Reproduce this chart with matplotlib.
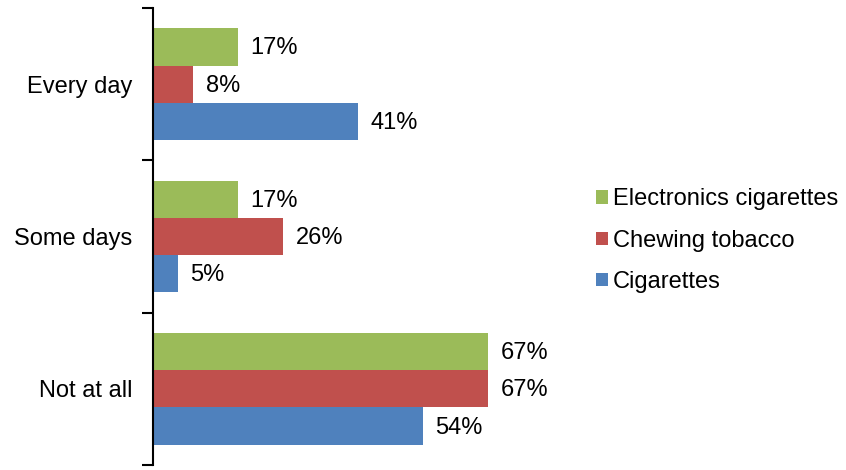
import matplotlib.pyplot as plt
import numpy as np

# Data
categories = ['Every day', 'Some days', 'Not at all']
series_names = ['Electronics cigarettes', 'Chewing tobacco', 'Cigarettes']
ecig = [17, 17, 67]
chewing = [8, 26, 67]
cigarettes = [41, 5, 54]
colors = ['#9BBB59', '#C0504D', '#4F81BD']

plt.rcParams['font.family'] = ['Liberation Sans', 'DejaVu Sans']

fig = plt.figure(figsize=(8.46, 4.70), dpi=100)
ax = fig.add_axes([153 / 846, 5 / 470, 400 / 846, 457 / 470])

# Categories go top to bottom
ypos = np.arange(len(categories))[::-1]
h = 0.245
offsets = [h, 0, -h]

for vals, off, color, name in zip([ecig, chewing, cigarettes], offsets,
                                  colors, series_names):
    bars = ax.barh(ypos + off, vals, height=h, color=color, label=name)
    for bar, v in zip(bars, vals):
        ax.annotate(f'{v}%', (bar.get_width(), bar.get_y() + h / 2),
                    xytext=(9, -1), textcoords='offset points',
                    va='center', ha='left', fontsize=17)

ax.set_xlim(0, 80)
ax.set_ylim(-0.5, len(categories) - 0.5)

# Axis styling: only the left spine with boundary ticks
for side in ['top', 'right', 'bottom']:
    ax.spines[side].set_visible(False)
ax.spines['left'].set_linewidth(1.5)
ax.set_xticks([])
ax.set_yticks(ypos)
ax.set_yticklabels(categories, fontsize=17)
ax.tick_params(axis='y', which='major', length=0, pad=15)
ax.set_yticks(np.arange(-0.5, len(categories)), minor=True)
ax.tick_params(axis='y', which='minor', length=8, width=1.5)

leg = ax.legend(loc='center left', bbox_to_anchor=(0.705, 0.488),
                bbox_transform=fig.transFigure, frameon=False, fontsize=17,
                handlelength=0.5, handleheight=0.5, handletextpad=0.2,
                labelspacing=0.82, borderpad=0, borderaxespad=0)

fig.savefig('out.png', dpi=100)
